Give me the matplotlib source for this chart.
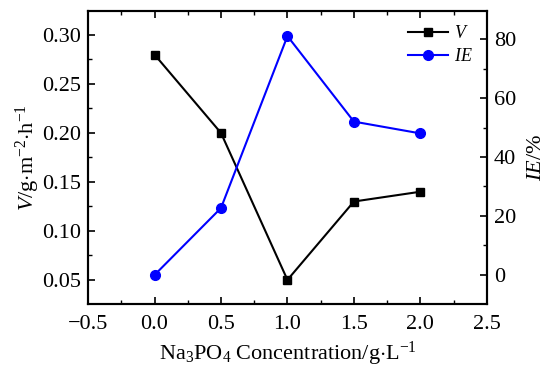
import matplotlib
matplotlib.use("Agg")
import matplotlib.pyplot as plt
from matplotlib.ticker import MultipleLocator

# data
conc = [0.0, 0.5, 1.0, 1.5, 2.0]
v = [0.28, 0.20, 0.05, 0.13, 0.14]
ie = [0.0, 22.7, 81.0, 52.0, 48.0]

plt.rcParams['font.family'] = ['Liberation Serif', 'DejaVu Serif']
plt.rcParams['mathtext.fontset'] = 'custom'
plt.rcParams['mathtext.rm'] = 'Liberation Serif'
plt.rcParams['mathtext.it'] = 'Liberation Serif:italic'
plt.rcParams['font.size'] = 16

fig = plt.figure(figsize=(5.47, 3.67), dpi=100)
ax = fig.add_axes([0.161, 0.172, 0.729, 0.798])
ax2 = ax.twinx()

l1, = ax.plot(conc, v, color='black', marker='s', markersize=6, lw=1.5, label='$V$')
l2, = ax2.plot(conc, ie, color='blue', marker='o', markersize=7, lw=1.5, label='$IE$')

ax.set_xlim(-0.5, 2.5)
ax.set_ylim(0.0255, 0.3245)
ax2.set_ylim(-9.8, 89.5)

ax.xaxis.set_major_locator(MultipleLocator(0.5))
ax.xaxis.set_minor_locator(MultipleLocator(0.25))
ax.yaxis.set_major_locator(MultipleLocator(0.05))
ax.yaxis.set_minor_locator(MultipleLocator(0.025))
ax2.yaxis.set_major_locator(MultipleLocator(20))
ax2.yaxis.set_minor_locator(MultipleLocator(10))

ax.set_xticks([-0.5, 0.0, 0.5, 1.0, 1.5, 2.0, 2.5])
ax.set_xticklabels(['\u22120.5', '0.0', '0.5', '1.0', '1.5', '2.0', '2.5'])
ax.set_yticks([0.05, 0.10, 0.15, 0.20, 0.25, 0.30])
ax.set_yticklabels(['0.05', '0.10', '0.15', '0.20', '0.25', '0.30'])

ax.tick_params(which='both', direction='in', top=True, labelsize=16)
ax.tick_params(which='major', length=5, width=1.2, pad=5)
ax.tick_params(axis='x', which='major', pad=8)
ax.tick_params(which='minor', length=3, width=1.0)
ax2.tick_params(which='both', direction='in', labelsize=16)
ax2.tick_params(which='major', length=5, width=1.2, pad=5)
ax2.tick_params(which='minor', length=3, width=1.0)
for sp in ax.spines.values():
    sp.set_linewidth(1.5)
for sp in ax2.spines.values():
    sp.set_linewidth(1.5)

ax.set_xlabel('Na$_{3}$PO$_{4}$ Concentration/g$\\cdot$L$^{-1}$', fontsize=16, labelpad=4)
ax.set_ylabel('$V$/g$\\cdot$m$^{-2}$$\\cdot$h$^{-1}$', fontsize=16, labelpad=0)
ax2.set_ylabel('$IE$/%', fontsize=16, labelpad=8)

ax.legend([l1, l2], ['$V$', '$IE$'], loc='upper right', frameon=False, fontsize=13,
          handlelength=2.2, borderaxespad=0.4, labelspacing=0.3, handletextpad=0.3)

fig.savefig('out.png', dpi=100)
